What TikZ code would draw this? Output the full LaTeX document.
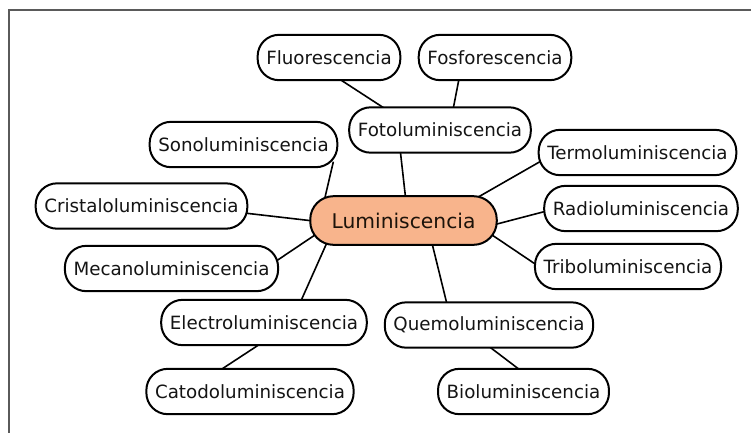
\documentclass[tikz,border=0pt]{standalone}
\usepackage{fontspec}
\setmainfont{DejaVu Sans}
\usetikzlibrary{backgrounds}
\definecolor{lumpeach}{HTML}{F8B48C}
\definecolor{framegray}{HTML}{5A5A5A}

\begin{document}
\begin{tikzpicture}[x=0.75pt,y=-0.75pt,
  lum node/.style={rectangle,rounded corners=16pt,draw=black,line width=1.5pt,fill=white,
    minimum height=34pt,inner xsep=6.5pt,font=\fontsize{13.7}{16}\selectfont,text=black!92},
  core node/.style={lum node,fill=lumpeach,minimum height=36.5pt,rounded corners=17.5pt,
    inner xsep=16pt,font=\fontsize{15.2}{18}\selectfont,text=black!85!brown},
  link/.style={line width=1.2pt,shorten <=-5pt,shorten >=-5pt}]

  \useasboundingbox (0,0) rectangle (751,433);
  \draw[framegray,line width=1.5pt] (751,10) -- (9,10) -- (9,433);

  \node[core node] (lumin) at (403.5,220.5) {Luminiscencia};
  \node[lum node] (fluo) at (329,57.5) {Fluorescencia};
  \node[lum node] (fosfo) at (495,57.5) {Fosforescencia};
  \node[lum node] (foto) at (440,130) {Fotoluminiscencia};
  \node[lum node] (sono) at (243.5,144.5) {Sonoluminiscencia};
  \node[lum node] (termo) at (637.5,152.5) {Termoluminiscencia};
  \node[lum node] (crist) at (141.5,206) {Cristaloluminiscencia};
  \node[lum node] (radio) at (641,208.5) {Radioluminiscencia};
  \node[lum node] (mecano) at (171.5,268.5) {Mecanoluminiscencia};
  \node[lum node] (tribo) at (628,266.5) {Triboluminiscencia};
  \node[lum node] (electro) at (264,322.5) {Electroluminiscencia};
  \node[lum node] (quemo) at (489,325) {Quemoluminiscencia};
  \node[lum node] (catodo) at (250,391.5) {Catodoluminiscencia};
  \node[lum node] (bio) at (523.5,391.5) {Bioluminiscencia};

  \begin{scope}[on background layer]
  \path[link,draw]
   (fluo.-60) edge (foto.158)
   (fosfo.213) edge (foto.60)
   (foto.211) edge (lumin.86)
   (sono.-15) edge (lumin.162)
   (crist.-4) edge (lumin.180)
   (mecano.5) edge (lumin.191)
   (electro.32) edge (lumin.198)
   (electro.253) edge (catodo.138)
   (quemo.151) edge (lumin.-41)
   (quemo.-83) edge (bio.105)
   (tribo.178) edge (lumin.-11)
   (radio.182) edge (lumin.-2)
   (termo.186) edge (lumin.18);
  \end{scope}
\end{tikzpicture}
\end{document}
